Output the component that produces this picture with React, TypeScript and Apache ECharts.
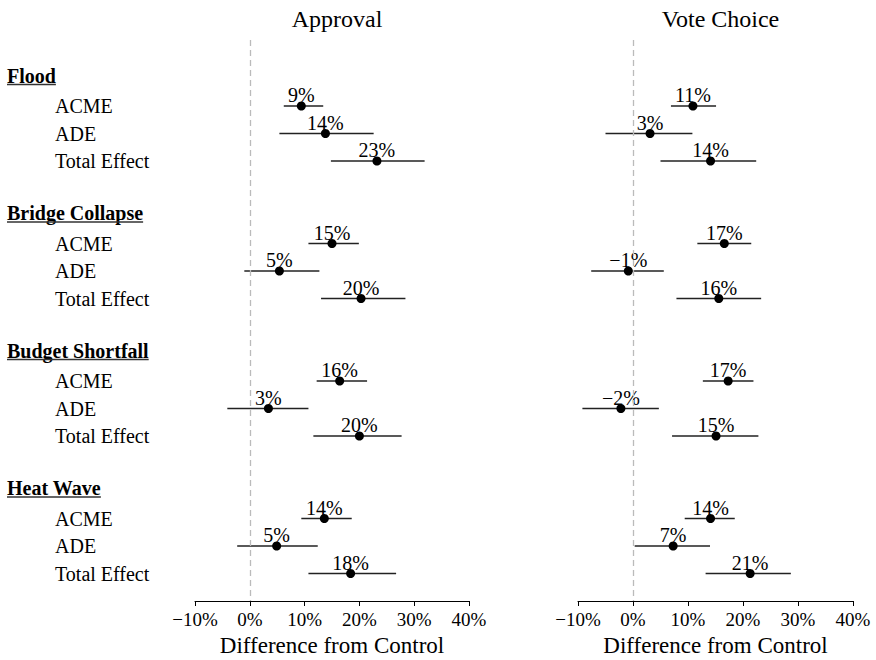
import React, { useEffect, useRef } from "react";
import * as echarts from "echarts";

const groups = ["Flood", "Bridge Collapse", "Budget Shortfall", "Heat Wave"];
const effects = ["ACME", "ADE", "Total Effect"];
const panelTitles = ["Approval", "Vote Choice"];

// order: per group ACME, ADE, Total Effect
const approvalEst = [9.4, 13.8, 23.2, 15.0, 5.4, 20.3, 16.4, 3.4, 20.0, 13.6, 4.9, 18.4];
const approvalLo = [6.2, 5.4, 14.8, 10.7, -1.0, 13.0, 12.2, -4.1, 11.6, 9.4, -2.3, 10.7];
const approvalHi = [13.4, 22.6, 31.9, 19.9, 12.7, 28.4, 21.4, 10.7, 27.7, 18.6, 12.4, 26.7];

const voteEst = [10.9, 3.1, 14.1, 16.6, -0.85, 15.6, 17.3, -2.2, 15.1, 14.1, 7.3, 21.3];
const voteLo = [6.9, -5.0, 5.0, 11.7, -7.6, 7.9, 12.7, -9.2, 7.1, 9.4, 0.3, 13.2];
const voteHi = [15.1, 10.8, 22.4, 21.5, 5.6, 23.3, 21.9, 4.7, 22.8, 18.5, 14.0, 28.7];

const FONT = '"Liberation Serif", "Times New Roman", serif';

const fmtPct = (v: number) => {
  const r = Math.round(v);
  return (r < 0 ? "\u2212" + Math.abs(r) : String(r)) + "%";
};

// layout helpers (row positions on the hidden y axis)
const headerPos = (g: number) => 1.3 + 5 * g;
const rowPos = (g: number, k: number) => 2.4 + 5 * g + k;

function measure(text: string, font: string): number {
  const c = document.createElement("canvas");
  const ctx = c.getContext("2d");
  if (!ctx) return text.length * 10;
  ctx.font = font;
  return ctx.measureText(text).width;
}

export default function App() {
  const ref = useRef<HTMLDivElement>(null);
  useEffect(() => {
    if (!ref.current) return;
    const chart = echarts.init(ref.current, null, { renderer: "svg" });

    const grids = [
      { left: 195, width: 274, top: 40, height: 561, containLabel: false, outerBoundsMode: "none" },
      { left: 578, width: 275, top: 40, height: 561, containLabel: false, outerBoundsMode: "none" },
    ];

    const xAxes = grids.map((_, i) => ({
      type: "value",
      gridIndex: i,
      min: -10,
      max: 40,
      interval: 10,
      splitLine: { show: false },
      axisLine: { show: true, onZero: false, lineStyle: { color: "#000", width: 1 } },
      axisTick: { show: true, inside: false, length: 5, lineStyle: { color: "#000" } },
      axisLabel: {
        margin: 9,
        fontFamily: FONT,
        fontSize: 19,
        color: "#000",
        formatter: (v: number) => (v < 0 ? "\u2212" + Math.abs(v) : String(v)) + "%",
      },
      name: "Difference from Control",
      nameLocation: "middle",
      nameGap: 33,
      nameTextStyle: { fontFamily: FONT, fontSize: 23, color: "#000" },
    }));

    const yAxes = grids.map((_, i) => ({
      type: "value",
      gridIndex: i,
      min: 0,
      max: 20.4,
      inverse: true,
      show: false,
    }));

    const panels = [
      { est: approvalEst, lo: approvalLo, hi: approvalHi },
      { est: voteEst, lo: voteLo, hi: voteHi },
    ];

    const series: any[] = [];
    panels.forEach((p, i) => {
      const barData: number[][] = [];
      const ptData: number[][] = [];
      groups.forEach((_, g) => {
        effects.forEach((_, k) => {
          const idx = g * effects.length + k;
          const y = rowPos(g, k);
          barData.push([p.lo[idx], p.hi[idx], y]);
          ptData.push([p.est[idx], y]);
        });
      });
      series.push({
        type: "custom",
        xAxisIndex: i,
        yAxisIndex: i,
        data: barData,
        encode: { x: [0, 1], y: 2 },
        silent: true,
        clip: false,
        renderItem: (params: any, api: any) => {
          const a = api.coord([api.value(0), api.value(2)]);
          const b = api.coord([api.value(1), api.value(2)]);
          return {
            type: "line",
            shape: { x1: a[0], y1: a[1], x2: b[0], y2: b[1] },
            style: { stroke: "#222", lineWidth: 1.3 },
          };
        },
      });
      series.push({
        type: "scatter",
        xAxisIndex: i,
        yAxisIndex: i,
        data: ptData,
        symbol: "circle",
        symbolSize: 9,
        itemStyle: { color: "#000", opacity: 1 },
        silent: true,
        label: {
          show: true,
          position: "inside",
          offset: [0, -11],
          fontFamily: FONT,
          fontSize: 20,
          color: "#000",
          textBorderWidth: 0,
          formatter: (prm: any) => fmtPct(prm.value[0]),
        },
        markLine: {
          silent: true,
          symbol: ["none", "none"],
          label: { show: false },
          lineStyle: { type: [6, 4], color: "#bbb", width: 1.3 },
          data: [{ xAxis: 0 }],
        },
      });
    });

    // row labels and group headers on left panel
    const labelData: any[] = [];
    groups.forEach((g, gi) => {
      labelData.push([-10, headerPos(gi), g, 1]);
      effects.forEach((e, k) => {
        labelData.push([-10, rowPos(gi, k), e, 0]);
      });
    });
    const headerFont = "bold 20px " + FONT;
    series.push({
      type: "custom",
      xAxisIndex: 0,
      yAxisIndex: 0,
      data: labelData,
      encode: { x: 0, y: 1 },
      silent: true,
      clip: false,
      renderItem: (params: any, api: any) => {
        const item = labelData[params.dataIndex];
        const pt = api.coord([item[0], item[1]]);
        const isHeader = item[3] === 1;
        const text = item[2];
        if (isHeader) {
          const w = measure(text, headerFont);
          return {
            type: "group",
            children: [
              {
                type: "text",
                x: 7,
                y: pt[1],
                style: {
                  text,
                  fontFamily: FONT,
                  fontSize: 20,
                  fontWeight: "bold",
                  fill: "#000",
                  align: "left",
                  verticalAlign: "middle",
                },
              },
              {
                type: "rect",
                shape: { x: 7, y: pt[1] + 8, width: w, height: 1.5 },
                style: { fill: "#333" },
              },
            ],
          };
        }
        return {
          type: "text",
          x: 55,
          y: pt[1],
          style: {
            text,
            fontFamily: FONT,
            fontSize: 20,
            fill: "#000",
            align: "left",
            verticalAlign: "middle",
          },
        };
      },
    });

    chart.setOption({
      animation: false,
      backgroundColor: "#fff",
      title: panelTitles.map((t, i) => ({
        text: t,
        left: grids[i].left + grids[i].width / 2,
        top: 2,
        textAlign: "center",
        textStyle: { fontFamily: FONT, fontSize: 24, fontWeight: "normal", color: "#000" },
      })),
      grid: grids,
      xAxis: xAxes,
      yAxis: yAxes,
      series,
    });

    return () => chart.dispose();
  }, []);

  return (
    <div
      ref={ref}
      style={{ position: "fixed", left: 0, top: 0, width: 876, height: 660, background: "#fff" }}
    />
  );
}
